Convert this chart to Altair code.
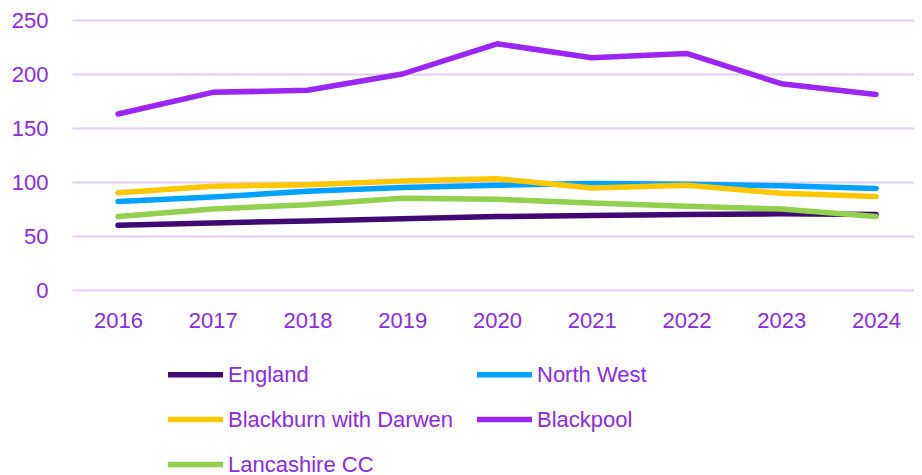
import altair as alt
import pandas as pd

years = ["2016", "2017", "2018", "2019", "2020", "2021", "2022", "2023", "2024"]
series = ["England", "North West", "Blackburn with Darwen", "Blackpool", "Lancashire CC"]
england = [60, 62, 64, 66, 68, 69, 70, 70.5, 70]
north_west = [82, 86, 91.5, 95, 97, 98.5, 98, 96.5, 94]
blackburn = [90, 96, 97.5, 101, 103, 94.5, 97, 89.5, 86.5]
blackpool = [163, 183, 185, 200, 228, 215, 219, 191, 181]
lancashire = [68, 75, 79, 85, 84, 80.5, 77.5, 75, 68]
colors = ["#3F0A72", "#00A2FF", "#FFC700", "#9B26F4", "#92D050"]

values = [england, north_west, blackburn, blackpool, lancashire]
rows = []
for i, (name, vals) in enumerate(zip(series, values)):
    for y, v in zip(years, vals):
        rows.append({"Year": y, "Area": name, "Value": v, "order": i})
df = pd.DataFrame(rows)

TEXT = "#8A2BE2"
FONT = "Liberation Sans"

chart = alt.Chart(df).mark_line(strokeWidth=5.5, strokeCap="round", strokeJoin="round").encode(
    x=alt.X("Year:N", sort=years,
            scale=alt.Scale(type="point", padding=0.4435, align=0.548),
            axis=alt.Axis(title=None, labelAngle=0, domain=False, ticks=False, grid=False,
                          labelFontSize=22, labelColor=TEXT, labelFont=FONT, labelPadding=20)),
    y=alt.Y("Value:Q", scale=alt.Scale(domain=[0, 250], nice=False),
            axis=alt.Axis(title=None, values=[0, 50, 100, 150, 200, 250], domain=False, ticks=False,
                          grid=True, gridColor="#E2CCF8", gridWidth=2,
                          labelFontSize=22, labelColor=TEXT, labelFont=FONT, labelPadding=24)),
    color=alt.Color("Area:N", sort=series,
                    scale=alt.Scale(domain=series, range=colors),
                    legend=alt.Legend(title=None, orient="none", legendX=93, legendY=324,
                                      direction="horizontal",
                                      columns=2, symbolType="stroke", symbolSize=3025,
                                      symbolStrokeWidth=5.5, labelOffset=2, labelLimit=400,
                                      labelFontSize=22, labelColor=TEXT, labelFont=FONT,
                                      rowPadding=3, columnPadding=13, padding=0)),
    order=alt.Order("order:Q"),
).properties(
    width=842, height=270,
    padding={"left": 64, "top": 12, "right": 0, "bottom": 185},
    autosize=alt.AutoSizeParams(type="none"),
).configure_view(stroke=None)

chart.save("out.html", embed_options={"renderer": "svg", "actions": False})
